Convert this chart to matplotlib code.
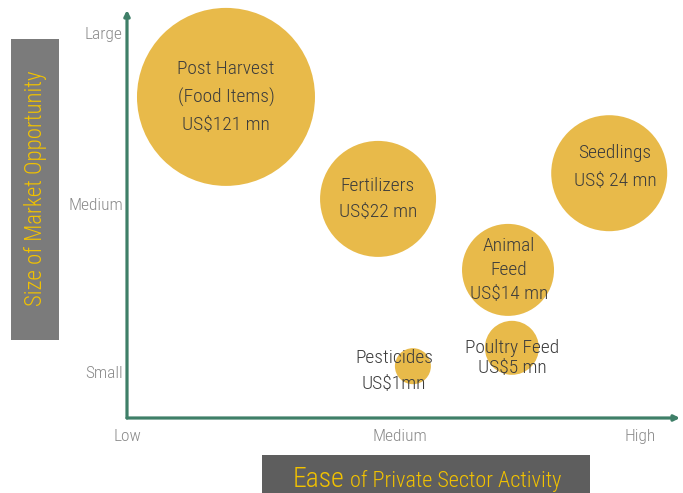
import matplotlib
matplotlib.use("Agg")
import matplotlib.pyplot as plt
from matplotlib.patches import Rectangle
from matplotlib import font_manager

# ---------------- data ----------------
categories = ["Post Harvest\n(Food Items)", "Fertilizers", "Seedlings",
              "Animal\nFeed", "Poultry Feed", "Pesticides"]
value_labels = ["US$121 mn", "US$22 mn", "US$ 24 mn", "US$14 mn", "US$5 mn", "US$1mn"]
market_value_mn = [121, 22, 24, 14, 5, 1]
ease = [1.79, 4.54, 8.72, 6.89, 6.96, 5.17]          # 0 = Low ... 10 = High
market_size = [7.87, 5.37, 6.00, 3.63, 1.72, 1.27]   # 0 = Small ... 10 = Large
bubble_radius_px = [89, 58, 58, 46, 27, 18]
x_tick_pos = [0.0, 4.94, 9.28]
x_tick_labels = ["Low", "Medium", "High"]
y_tick_pos = [9.44, 5.25, 1.13]
y_tick_labels = ["Large", "Medium", "Small"]

# --------------- styling ---------------
names = {f.name for f in font_manager.fontManager.ttflist}
prefs = ["Roboto Condensed", "Arial Narrow", "Liberation Sans Narrow", "PT Sans Narrow",
         "Archivo Narrow", "Barlow Condensed", "Asap Condensed"]
FAM = [p for p in prefs if p in names][:1] or ["DejaVu Sans"]
plt.rcParams["font.family"] = FAM + ["DejaVu Sans"]
plt.rcParams["font.weight"] = "light"

W, H, DPI = 683, 493, 100
TEAL = "#3f7f68"
GOLD = "#E8BA4A"
TXT = "#3c3c3c"
TICK = "#8a8a8a"
YEL = "#F2C200"

fig = plt.figure(figsize=(W / DPI, H / DPI), dpi=DPI)
fig.patch.set_facecolor("white")

ax_l, ax_r, ax_t, ax_b = 127, 680, 10, 418
ax = fig.add_axes([ax_l / W, 1 - ax_b / H, (ax_r - ax_l) / W, (ax_b - ax_t) / H])
ax.set_xlim(0, 10)
ax.set_ylim(0, 10)
for s in ax.spines.values():
    s.set_visible(False)
ax.patch.set_alpha(0)

# axes arrows
for end in [(0, 1), (1, 0)]:
    ax.annotate("", xy=end, xytext=(0, 0), xycoords="axes fraction",
                arrowprops=dict(arrowstyle="-|>", lw=2.3, color=TEAL, mutation_scale=8,
                                shrinkA=0, shrinkB=0))

# ticks
ax.set_xticks(x_tick_pos, x_tick_labels)
ax.set_yticks(y_tick_pos, y_tick_labels)
ax.tick_params(axis="x", length=0, pad=8, labelsize=12.5, labelcolor=TICK)
ax.tick_params(axis="y", length=0, pad=3, labelsize=12.5, labelcolor=TICK)

# bubbles
sizes = [(2 * r * 72 / DPI) ** 2 for r in bubble_radius_px]
ax.scatter(ease, market_size, s=sizes, color=GOLD, edgecolors="none",
           clip_on=False, zorder=2)

# bubble labels (pixel centres and line spacing)
label_px = [(226, 97), (378, 199), (615, 167), (509, 270), (512, 358), (394, 371)]
label_ls = [1.65, 1.6, 1.7, 1.42, 1.2, 1.55]
for cat, val, (px, py), ls in zip(categories, value_labels, label_px, label_ls):
    fig.text(px / W, 1 - py / H, cat + "\n" + val, ha="center", va="center",
             fontsize=14, color=TXT, linespacing=ls, zorder=5)

# y-axis title box
fig.patches.append(Rectangle((11 / W, 1 - 340 / H), 48 / W, 301 / H,
                             transform=fig.transFigure, facecolor="#7b7b7b",
                             edgecolor="none", zorder=0))
fig.text(35 / W, 1 - 188 / H, "Size of Market Opportunity", rotation=90,
         ha="center", va="center", fontsize=16.5, color=YEL)

# x-axis title box
fig.patches.append(Rectangle((262 / W, 0), 328 / W, 38 / H,
                             transform=fig.transFigure, facecolor="#5e5e5e",
                             edgecolor="none", zorder=0))
t1 = fig.text(293 / W, 1 - 487 / H, "Ease", ha="left", va="baseline",
              fontsize=20, color=YEL)
fig.canvas.draw()
bb = t1.get_window_extent()
fig.text(bb.x1 / W, 1 - 487 / H, " of Private Sector Activity", ha="left",
         va="baseline", fontsize=16, color=YEL)

fig.savefig("out.png", dpi=DPI)
